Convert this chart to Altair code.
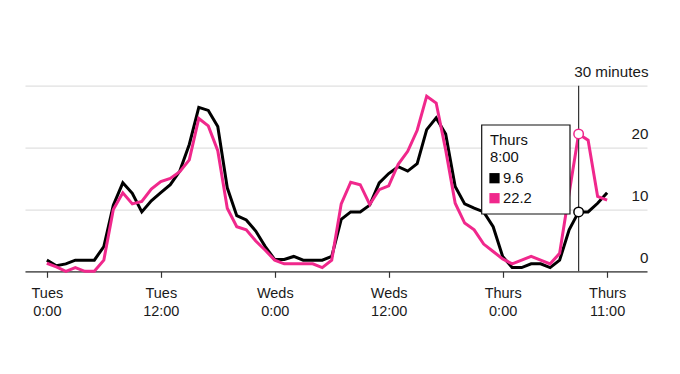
import altair as alt
import pandas as pd

# ---------------- data ----------------
hours = list(range(60))  # hours since Tues 0:00
black = [1.8, 0.9, 1.2, 1.8, 1.8, 1.8, 4.0, 10.7, 14.3, 12.6,
         9.6, 11.4, 12.7, 14.0, 16.2, 20.5, 26.5, 26.0, 23.4, 13.5,
         9.0, 8.3, 6.5, 4.0, 1.9, 1.9, 2.4, 1.8, 1.8, 1.8,
         2.4, 8.4, 9.6, 9.6, 10.7, 14.3, 15.8, 16.9, 16.2, 17.4,
         22.9, 24.8, 22.2, 13.7, 10.9, 10.2, 9.6, 7.2, 2.4, 0.6,
         0.6, 1.2, 1.2, 0.6, 1.8, 6.7, 9.6, 9.6, 11.0, 12.7]
pink = [1.3, 0.7, 0.0, 0.6, 0.0, 0.0, 1.8, 10.0, 12.7, 10.9,
        11.3, 13.3, 14.5, 15.0, 16.1, 18.0, 24.7, 23.5, 19.5, 10.2,
        7.2, 6.7, 4.9, 3.4, 1.8, 1.2, 1.2, 1.2, 1.2, 0.6,
        1.8, 10.9, 14.4, 14.0, 10.8, 13.2, 13.8, 17.3, 19.4, 22.8,
        28.3, 27.2, 19.6, 11.0, 7.8, 6.7, 4.4, 3.2, 2.0, 1.2,
        1.8, 2.4, 1.8, 1.2, 2.9, 12.6, 22.2, 21.2, 12.1, 11.5]

tick_hours = [0, 12, 24, 36, 48, 59]
tick_days = ["Tues", "Tues", "Weds", "Weds", "Thurs", "Thurs"]
tick_times = ["0:00", "12:00", "0:00", "12:00", "0:00", "11:00"]
y_ticks = [0, 10, 20, 30]
y_unit = "minutes"

cursor_hour = 56
cursor_day = "Thurs"
cursor_time = "8:00"

# ---------------- styles ----------------
FONT = "Liberation Sans"
BLACK = "#000000"
PINK = "#f0288c"

df = pd.DataFrame({"hour": hours, "black": black, "pink": pink})
cur = df[df["hour"] == cursor_hour].copy()
cur["lo"] = 0
cur["hi"] = 30

x_scale = alt.Scale(domain=[-2.3, 63.2], nice=False, zero=False)
y_scale = alt.Scale(domain=[0, 30], nice=False)

label_expr = ""
for h, d, t in zip(tick_hours, tick_days, tick_times):
    label_expr += f"datum.value == {h} ? ['{d}', '{t}'] : "
label_expr += "datum.label"

x_axis = alt.Axis(values=tick_hours, labelExpr=label_expr, grid=False,
                  domainColor="#333333", domainWidth=1.2, tickColor="#333333",
                  tickSize=6, tickWidth=1.2, labelFont=FONT, labelFontSize=14.5,
                  labelColor="#1a1a1a", labelLineHeight=18.3, labelPadding=9,
                  title=None, labelAngle=0, labelFlush=False, labelOverlap=False)

y_axis = alt.Axis(orient="right", values=y_ticks,
                  labelExpr=f"datum.value == 30 ? '30 {y_unit}' : datum.label",
                  domain=False, ticks=False, tickSize=0, labelAlign="right",
                  labelBaseline="alphabetic", labelOffset=-9, labelPadding=1,
                  grid=True, gridColor="#e0e0e0", gridWidth=1.3,
                  labelFont=FONT, labelFontSize=15.2, labelColor="#1a1a1a",
                  title=None, labelFlush=False)

base = alt.Chart(df)

line_black = base.mark_line(color=BLACK, strokeWidth=3).encode(
    x=alt.X("hour:Q", scale=x_scale, axis=x_axis),
    y=alt.Y("black:Q", scale=y_scale, axis=y_axis),
)
line_pink = base.mark_line(color=PINK, strokeWidth=3).encode(
    x=alt.X("hour:Q", scale=x_scale),
    y=alt.Y("pink:Q", scale=y_scale),
)

one = pd.DataFrame({"a": [0]})
box = alt.Chart(one).mark_rect(fill="white", stroke="#111111", strokeWidth=1.2).encode(
    x=alt.value(456.7), x2=alt.value(545), y=alt.value(39.3), y2=alt.value(128.3)
)

def txt(s, x, y, color="#111111"):
    return alt.Chart(one).mark_text(align="left", baseline="alphabetic", font=FONT,
                                    fontSize=14.8, color=color).encode(
        x=alt.value(x), y=alt.value(y), text=alt.value(s))

def sq(x, y, color):
    return alt.Chart(one).mark_square(color=color, size=105, opacity=1).encode(
        x=alt.value(x), y=alt.value(y))

black_val = black[cursor_hour]
pink_val = pink[cursor_hour]

t_day = txt(cursor_day, 465, 59.6)
t_time = txt(cursor_time, 465, 76.3)
s_black = sq(469.5, 92.5, BLACK)
s_pink = sq(469.5, 112.5, PINK)
t_black = txt(f"{black_val}", 478, 97.3)
t_pink = txt(f"{pink_val}", 478, 117.3)

rule = alt.Chart(cur).mark_rule(color="#333333", strokeWidth=1.2).encode(
    x=alt.X("hour:Q", scale=x_scale),
    y=alt.Y("lo:Q", scale=y_scale),
    y2="hi:Q",
)
pt_black = alt.Chart(cur).mark_circle(fill="white", stroke=BLACK, strokeWidth=1.5,
                                      size=90, opacity=1).encode(
    x=alt.X("hour:Q", scale=x_scale), y=alt.Y("black:Q", scale=y_scale))
pt_pink = alt.Chart(cur).mark_circle(fill="white", stroke=PINK, strokeWidth=1.5,
                                     size=90, opacity=1).encode(
    x=alt.X("hour:Q", scale=x_scale), y=alt.Y("pink:Q", scale=y_scale))

chart = alt.layer(
    line_black, line_pink, box, t_day, t_time, s_black, s_pink, t_black, t_pink,
    rule, pt_black, pt_pink
).properties(
    width=622, height=185.6,
    background="white",
    autosize=alt.AutoSizeParams(type="none"),
    padding={"left": 17, "top": 77.7, "right": 25, "bottom": 94},
).configure_view(stroke=None)

chart.save("out.html", embed_options={"renderer": "svg", "actions": False})
